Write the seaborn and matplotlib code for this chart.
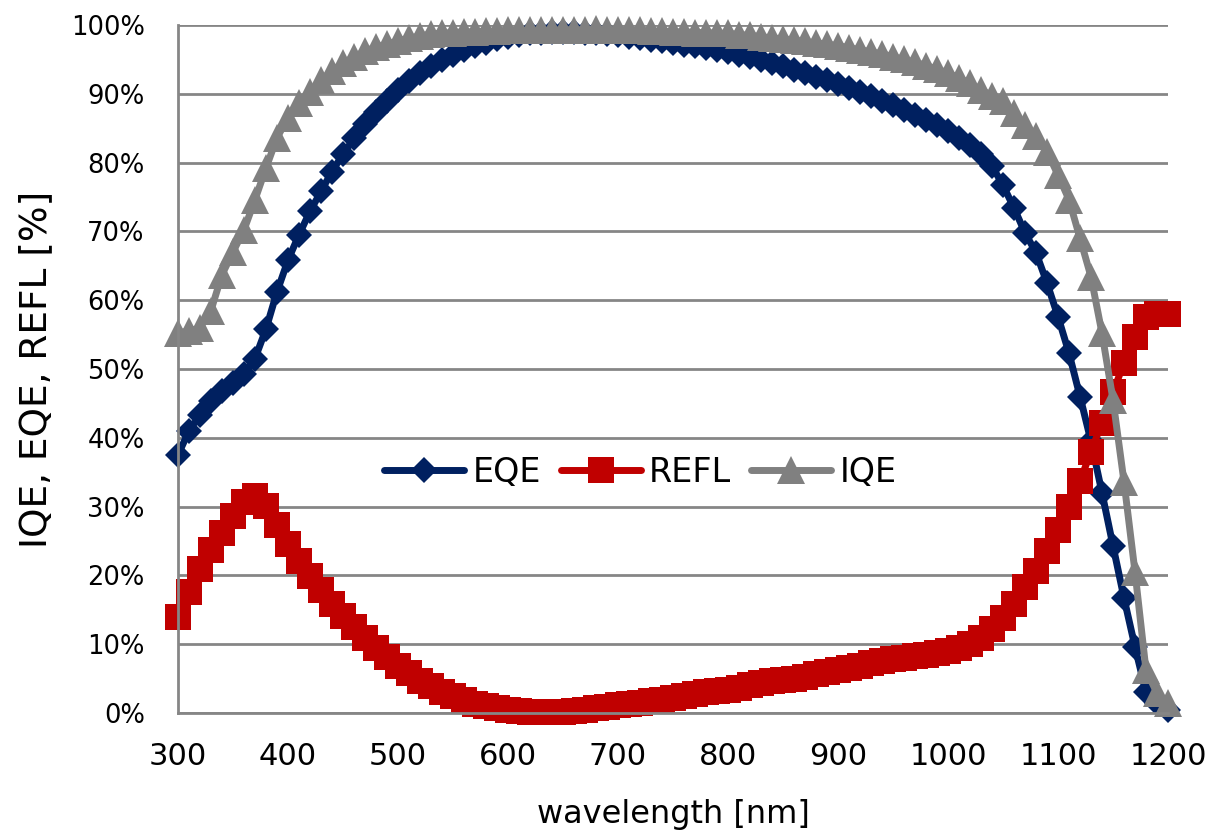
import numpy as np
import pandas as pd
import matplotlib
matplotlib.use('Agg')
import matplotlib.pyplot as plt
import seaborn as sns
from matplotlib.ticker import FuncFormatter

# wavelength grid, 10 nm steps
wavelength = list(range(300, 1201, 10))

eqe = [37.5, 41.0, 43.3, 45.3, 46.8, 48.0, 49.3, 51.5, 55.8, 61.2,
       65.8, 69.5, 72.9, 75.8, 78.7, 81.2, 83.5, 85.6, 87.4, 89.0,
       90.5, 91.8, 93.0, 94.0, 94.9, 95.6, 96.3, 96.9, 97.4, 97.9,
       98.3, 98.6, 98.8, 98.9, 99.0, 99.0, 99.0, 98.9, 98.8, 98.7,
       98.5, 98.3, 98.1, 97.8, 97.6, 97.4, 97.1, 96.9, 96.6, 96.3,
       96.0, 95.6, 95.3, 94.9, 94.5, 94.0, 93.5, 93.0, 92.5, 92.0,
       91.4, 90.9, 90.3, 89.7, 89.0, 88.3, 87.6, 86.9, 86.2, 85.4,
       84.6, 83.6, 82.5, 81.3, 79.5, 76.7, 73.4, 69.8, 66.9, 62.5,
       57.6, 52.3, 46.0, 39.5, 32.0, 24.3, 16.7, 9.6, 3.0, 1.5,
       0.5]

refl = [14.0, 17.6, 20.9, 23.7, 26.2, 28.6, 30.7, 31.5, 30.1, 27.3,
        24.6, 22.1, 19.9, 17.9, 15.8, 14.1, 12.5, 10.9, 9.5, 8.1,
        6.9, 5.8, 4.7, 3.9, 3.1, 2.5, 1.9, 1.3, 1.0, 0.7,
        0.4, 0.3, 0.2, 0.1, 0.1, 0.2, 0.3, 0.5, 0.7, 0.9,
        1.1, 1.3, 1.5, 1.7, 1.9, 2.2, 2.5, 2.8, 3.0, 3.2,
        3.4, 3.7, 4.0, 4.3, 4.6, 4.8, 5.0, 5.3, 5.6, 5.9,
        6.2, 6.5, 6.9, 7.2, 7.5, 7.8, 8.0, 8.3, 8.5, 8.7,
        9.0, 9.4, 10.0, 10.9, 12.2, 13.8, 15.9, 18.3, 20.7, 23.5,
        26.6, 30.0, 33.7, 38.0, 42.2, 46.6, 50.9, 54.7, 57.6, 58.0,
        58.0]

iqe = [55.3, 55.5, 56.0, 58.5, 63.7, 67.0, 70.2, 74.6, 79.2, 83.6,
       86.5, 88.7, 90.3, 92.0, 93.3, 94.5, 95.3, 96.2, 96.8, 97.2,
       97.7, 98.1, 98.4, 98.7, 98.8, 98.9, 99.0, 99.0, 99.1, 99.1,
       99.2, 99.2, 99.2, 99.2, 99.2, 99.3, 99.3, 99.3, 99.4, 99.3,
       99.3, 99.2, 99.2, 99.1, 99.1, 99.0, 99.0, 98.9, 98.9, 98.8,
       98.8, 98.6, 98.5, 98.3, 98.1, 98.0, 97.8, 97.6, 97.4, 97.2,
       97.0, 96.7, 96.4, 96.1, 95.8, 95.4, 95.0, 94.6, 94.1, 93.6,
       93.0, 92.3, 91.5, 90.6, 89.7, 88.9, 87.2, 85.5, 83.8, 81.6,
       78.2, 74.6, 69.0, 63.4, 55.2, 45.5, 33.6, 20.5, 6.2, 2.9,
       1.5]

series_names = ['EQE', 'REFL', 'IQE']
colors = {'EQE': '#002060', 'REFL': '#C00000', 'IQE': '#808080'}
markers = {'EQE': 'D', 'REFL': 's', 'IQE': '^'}
msizes = {'EQE': 13.5, 'REFL': 19, 'IQE': 19.5}

df = pd.DataFrame({'wavelength': wavelength, 'EQE': eqe, 'REFL': refl, 'IQE': iqe})

sns.set_style('white')
plt.rcParams['font.family'] = ['DejaVu Sans']
plt.rcParams['text.color'] = 'black'
plt.rcParams['axes.labelcolor'] = 'black'

fig = plt.figure(figsize=(12.09, 8.35), dpi=100)
ax = fig.add_axes([0.1472, 0.1461, 0.8189, 0.824])

grid_c = '#868686'
for name in series_names:
    sns.lineplot(data=df, x='wavelength', y=name, ax=ax, color=colors[name],
                 marker=markers[name], markersize=msizes[name],
                 markeredgewidth=0, linewidth=5, label=name,
                 solid_capstyle='round', solid_joinstyle='round',
                 clip_on=False)

ax.set_xlim(300, 1200)
ax.set_ylim(0, 100)
ax.set_xticks(range(300, 1201, 100))
ax.set_yticks(range(0, 101, 10))
ax.yaxis.set_major_formatter(FuncFormatter(lambda v, p: f'{v:.0f}%'))
ax.grid(axis='y', color=grid_c, linewidth=2)
ax.set_axisbelow(True)

for s in ['top', 'right']:
    ax.spines[s].set_visible(False)
for s in ['left', 'bottom']:
    ax.spines[s].set_color(grid_c)
    ax.spines[s].set_linewidth(2)

ax.tick_params(axis='both', direction='out', color=grid_c, width=2, length=8,
               labelcolor='black')
ax.tick_params(axis='x', pad=13, labelsize=22)
ax.tick_params(axis='y', pad=16, labelsize=18.5)

ax.set_xlabel('wavelength [nm]', fontsize=23, labelpad=20)
ax.set_ylabel('IQE, EQE, REFL [%]', fontsize=27, labelpad=12)

ax.legend(loc='center', bbox_to_anchor=(0.467, 0.35), ncol=3, frameon=False,
          fontsize=24, handlelength=2.4, handletextpad=0.25, columnspacing=0.6)

fig.savefig('out.png', dpi=100)
